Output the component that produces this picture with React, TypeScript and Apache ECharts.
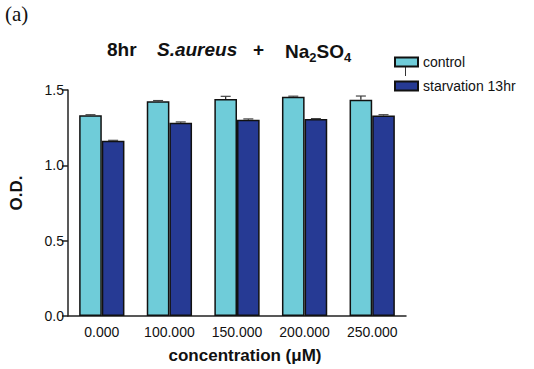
import React, { useEffect, useRef } from "react";
import * as echarts from "echarts";

const categories = ["0.000", "100.000", "150.000", "200.000", "250.000"];
const controlValues = [1.333, 1.425, 1.44, 1.455, 1.435];
const controlErrors = [0.003, 0.005, 0.018, 0.004, 0.025];
const starvationValues = [1.163, 1.283, 1.303, 1.307, 1.331];
const starvationErrors = [0.003, 0.005, 0.005, 0.003, 0.005];
const yTicks = [0, 0.5, 1.0, 1.5];

const CONTROL_COLOR = "#6FCCD9";
const STARV_COLOR = "#263A94";

function errorSeries(name: string, values: number[], errors: number[], side: number) {
  return {
    type: "custom",
    name: name + "-err",
    silent: true,
    z: 5,
    data: values.map((v, i) => [i, v, errors[i]]),
    encode: { x: 0, y: 1 },
    renderItem: (params: any, api: any) => {
      const i = api.value(0);
      const v = api.value(1);
      const e = api.value(2);
      const band = api.size([1, 0])[0];
      const bw = band * 0.335;
      const base = api.coord([i, v]);
      const top = api.coord([i, v + e]);
      const cx = base[0] + side * bw / 2;
      const cap = 5;
      return {
        type: "group",
        children: [
          { type: "line", shape: { x1: cx, y1: base[1], x2: cx, y2: top[1] }, style: { stroke: "#222", lineWidth: 1.2 } },
          { type: "line", shape: { x1: cx - cap, y1: top[1], x2: cx + cap, y2: top[1] }, style: { stroke: "#444", lineWidth: 1.2 } },
        ],
      };
    },
  };
}

export default function App() {
  const ref = useRef<HTMLDivElement>(null);
  useEffect(() => {
    if (!ref.current) return;
    const chart = echarts.init(ref.current, undefined, { renderer: "svg" });
    const font = "Liberation Sans, Arial, sans-serif";
    const titleBase = { fontSize: 19, fontWeight: "bold", fontFamily: font, fill: "#111" };
    chart.setOption({
      animation: false,
      textStyle: { fontFamily: font },
      grid: { left: 68, right: 128, top: 90, bottom: 52 },
      legend: {
        orient: "vertical",
        left: 394,
        top: 54,
        padding: 0,
        itemWidth: 23,
        itemHeight: 9,
        itemGap: 8,
        icon: "rect",
        data: ["control", "starvation 13hr"],
        textStyle: { fontSize: 14, color: "#111", fontFamily: font, lineHeight: 16 },
      },
      xAxis: {
        type: "category",
        data: categories,
        axisLine: { lineStyle: { color: "#222", width: 1.5 } },
        axisTick: { show: false },
        axisLabel: { fontSize: 14, color: "#111", margin: 9, fontFamily: font },
        name: "concentration (\u03bcM)",
        nameLocation: "middle",
        nameGap: 31,
        nameTextStyle: { fontSize: 17, fontWeight: "bold", color: "#111", fontFamily: font, padding: [0, 0, 0, 16] },
      },
      yAxis: {
        type: "value",
        min: yTicks[0],
        max: yTicks[yTicks.length - 1],
        interval: 0.5,
        splitLine: { show: false },
        axisLine: { show: true, lineStyle: { color: "#222", width: 1.5 } },
        axisTick: { show: true, length: 6, lineStyle: { color: "#222", width: 1.5 } },
        axisLabel: { fontSize: 14, color: "#111", margin: 4, fontFamily: font, formatter: (v: number) => v.toFixed(1) },
        name: "O.D.",
        nameLocation: "middle",
        nameGap: 43,
        nameRotate: 90,
        nameTextStyle: { fontSize: 17, fontWeight: "bold", color: "#111", fontFamily: font, padding: [0, 0, 0, 20] },
      },
      series: [
        {
          type: "bar",
          name: "control",
          data: controlValues,
          barGap: "0%",
          barCategoryGap: "33%",
          itemStyle: { color: CONTROL_COLOR, borderColor: "#111", borderWidth: 1.5 },
        },
        {
          type: "bar",
          name: "starvation 13hr",
          data: starvationValues,
          barGap: "0%",
          barCategoryGap: "33%",
          itemStyle: { color: STARV_COLOR, borderColor: "#111", borderWidth: 1.5 },
        },
        errorSeries("control", controlValues, controlErrors, -1),
        errorSeries("starvation 13hr", starvationValues, starvationErrors, 1),
      ],
      graphic: [
        {
          type: "text",
          left: 5,
          top: 3,
          style: { text: "(a)", fontSize: 21, fontFamily: "Liberation Serif, Times New Roman, serif", fill: "#111" },
        },
        {
          type: "text",
          left: 107,
          top: 40,
          style: { text: "8hr", ...titleBase },
        },
        {
          type: "text",
          left: 157,
          top: 40,
          style: {
            text: "{i|S.aureus}{a|   +}",
            rich: {
              a: { ...titleBase },
              i: { ...titleBase, fontStyle: "italic" },
            },
          },
        },
        {
          type: "text",
          left: 285,
          top: 40,
          style: {
            text: "{a|Na}{s|2}{a|SO}{s|4}",
            rich: {
              a: { ...titleBase, lineHeight: 22, verticalAlign: "top" },
              s: { ...titleBase, fontSize: 13, lineHeight: 13, verticalAlign: "bottom", padding: [11, 0, 0, 0] },
            },
          },
        },
        {
          type: "line",
          shape: { x1: 405.5, y1: 67, x2: 405.5, y2: 76 },
          style: { stroke: "#333", lineWidth: 1 },
        },
      ],
    });
    return () => chart.dispose();
  }, []);
  return <div ref={ref} style={{ width: 534, height: 369, position: "absolute", left: 0, top: 0 }} />;
}
